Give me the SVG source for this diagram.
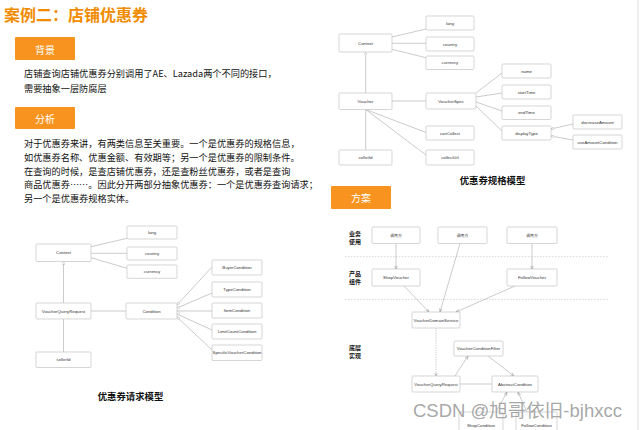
<svg xmlns="http://www.w3.org/2000/svg" width="640" height="430" viewBox="0 0 640 430">
<defs>
<style>
.box{fill:#fff;stroke:#c4c4c4;stroke-width:0.7}
.lbl{font-family:"Liberation Sans",Arial,sans-serif;font-size:4.3px;fill:#333;text-anchor:middle;dominant-baseline:central}
.cn{font-family:"Noto Sans CJK SC",sans-serif;font-size:3.8px;fill:#333;text-anchor:middle;dominant-baseline:central}
.conn{stroke:#a8a8a8;stroke-width:0.6;fill:none}
.btn{fill:#F7931E}
.btntxt{font-family:"Noto Sans CJK SC",sans-serif;font-size:10px;fill:#fff;text-anchor:middle;dominant-baseline:central}
.body{font-family:"Noto Sans CJK SC",sans-serif;font-size:9.2px;fill:#111}
.cap{font-family:"Noto Sans CJK SC",sans-serif;font-size:9.4px;fill:#111;font-weight:bold;text-anchor:middle}
.layer{font-family:"Noto Sans CJK SC",sans-serif;font-size:6px;fill:#111;font-weight:bold}
</style>
<marker id="tri" viewBox="0 0 10 10" refX="10" refY="5" markerWidth="3" markerHeight="3" markerUnits="userSpaceOnUse" orient="auto-start-reverse"><path d="M0,0 L10,5 L0,10 z" fill="#fff" stroke="#999" stroke-width="1.2"/></marker>
<marker id="arr" viewBox="0 0 10 10" refX="10" refY="5" markerWidth="3.5" markerHeight="3.5" markerUnits="userSpaceOnUse" orient="auto"><path d="M0,1 L10,5 L0,9" fill="none" stroke="#888" stroke-width="1.4"/></marker>
</defs>
<rect width="640" height="430" fill="#fff"/>
<line x1="638" y1="0" x2="638" y2="430" stroke="#ddd" stroke-width="1"/>

<text x="4" y="21" font-family="'Noto Sans CJK SC',sans-serif" font-size="16" font-weight="bold" fill="#F08C00">案例二：店铺优惠券</text>

<g id="btn-bg"><rect class="btn" x="15" y="37" width="60" height="23" rx="1"/><text class="btntxt" x="45" y="49">背景</text></g>
<text class="body" x="24" y="77">店铺查询店铺优惠券分别调用了AE、Lazada两个不同的接口，</text>
<text class="body" x="24" y="91.5">需要抽象一层防腐层</text>

<g id="btn-fx"><rect class="btn" x="15" y="107" width="60" height="22" rx="1"/><text class="btntxt" x="45" y="118">分析</text></g>
<text class="body" x="24" y="146.5">对于优惠券来讲，有两类信息至关重要。一个是优惠券的规格信息，</text>
<text class="body" x="24" y="160.5">如优惠券名称、优惠金额、有效期等；另一个是优惠券的限制条件。</text>
<text class="body" x="24" y="174.5">在查询的时候，是查店铺优惠券，还是查粉丝优惠券，或者是查询</text>
<text class="body" x="24" y="188">商品优惠券……。因此分开两部分抽象优惠券：一个是优惠券查询请求；</text>
<text class="body" x="24" y="201.5">另一个是优惠券规格实体。</text>

<g id="btn-fa"><rect class="btn" x="331" y="186" width="60" height="23" rx="1"/><text class="btntxt" x="361" y="197.5">方案</text></g>

<g id="connectors">
<!-- left diagram -->
<line class="conn" x1="91" y1="246.7" x2="127" y2="238.3"/>
<line class="conn" x1="91" y1="253.3" x2="127" y2="253.3"/>
<line class="conn" x1="91" y1="257.7" x2="127" y2="268.3"/>
<line class="conn" x1="63.5" y1="303" x2="63.5" y2="261.5" marker-end="url(#tri)"/>
<line class="conn" x1="63.5" y1="319" x2="63.5" y2="352"/>
<line class="conn" x1="91" y1="311" x2="126" y2="311"/>
<line class="conn" x1="177" y1="305" x2="212" y2="267" marker-start="url(#tri)"/>
<line class="conn" x1="177" y1="308" x2="212" y2="293" marker-start="url(#tri)"/>
<line class="conn" x1="177" y1="311" x2="212" y2="311" marker-start="url(#tri)"/>
<line class="conn" x1="177" y1="314" x2="212" y2="330" marker-start="url(#tri)"/>
<line class="conn" x1="177" y1="317" x2="212" y2="350" marker-start="url(#tri)"/>
<!-- top right -->
<line class="conn" x1="392" y1="37" x2="426" y2="29"/>
<line class="conn" x1="392" y1="43.3" x2="426" y2="43.3"/>
<line class="conn" x1="392" y1="49.3" x2="426" y2="57.7"/>
<line class="conn" x1="365.7" y1="93" x2="365.7" y2="52.3" marker-end="url(#tri)"/>
<line class="conn" x1="392" y1="101" x2="426" y2="101"/>
<line class="conn" x1="476" y1="93" x2="502" y2="73"/>
<line class="conn" x1="476" y1="97" x2="502" y2="93"/>
<line class="conn" x1="476" y1="102" x2="502" y2="111"/>
<line class="conn" x1="476" y1="106" x2="502" y2="131"/>
<line class="conn" x1="551" y1="129" x2="573" y2="124" marker-start="url(#tri)"/>
<line class="conn" x1="551" y1="136" x2="573" y2="140" marker-start="url(#tri)"/>
<line class="conn" x1="365.7" y1="109.5" x2="426" y2="132.5"/>
<line class="conn" x1="365.7" y1="109.5" x2="426" y2="155"/>
<line class="conn" x1="365.7" y1="109.5" x2="365.7" y2="150"/>
<!-- bottom right -->
<line x1="345" y1="256.7" x2="608" y2="256.7" stroke="#bbb" stroke-width="0.6" stroke-dasharray="1.5,1.5"/>
<line x1="345" y1="299.3" x2="608" y2="299.3" stroke="#bbb" stroke-width="0.6" stroke-dasharray="1.5,1.5"/>
<line class="conn" x1="396" y1="243.5" x2="396" y2="269" marker-end="url(#arr)"/>
<line class="conn" x1="532" y1="243.5" x2="532" y2="269" marker-end="url(#arr)"/>
<line class="conn" x1="460" y1="243.5" x2="440" y2="312" marker-end="url(#arr)"/>
<line class="conn" x1="404" y1="286" x2="429" y2="312" marker-end="url(#arr)"/>
<line class="conn" x1="515" y1="286" x2="456" y2="312" marker-end="url(#arr)"/>
<line class="conn" x1="436" y1="328" x2="436" y2="376" stroke-dasharray="1.2,1.2" marker-end="url(#arr)"/>
<line class="conn" x1="455" y1="376" x2="468" y2="356" marker-end="url(#arr)"/>
<line class="conn" x1="488" y1="356" x2="514" y2="376" marker-end="url(#arr)"/>
<line class="conn" x1="492" y1="384" x2="460" y2="384"/>
<line class="conn" x1="496" y1="412" x2="507" y2="392" marker-end="url(#arr)"/>
<line class="conn" x1="527" y1="412" x2="518" y2="392" marker-end="url(#arr)"/>
</g>

<!-- left diagram nodes -->
<g id="l-context"><rect class="box" x="36" y="244" width="55" height="17.5" rx="1"/><text class="lbl" x="63.5" y="252.8">Context</text></g>
<g id="l-lang"><rect class="box" x="127" y="226" width="50" height="13" rx="1"/><text class="lbl" x="152" y="232.5">lang</text></g>
<g id="l-country"><rect class="box" x="127" y="247" width="50" height="13" rx="1"/><text class="lbl" x="152" y="253.5">country</text></g>
<g id="l-currency"><rect class="box" x="127" y="265" width="50" height="13.3" rx="1"/><text class="lbl" x="152" y="271.6">currency</text></g>
<g id="l-vqr"><rect class="box" x="36" y="303" width="55" height="16" rx="1"/><text class="lbl" x="63.5" y="311">VoucherQueryRequest</text></g>
<g id="l-seller"><rect class="box" x="36" y="352" width="55" height="15.5" rx="1"/><text class="lbl" x="63.5" y="359.8">sellerId</text></g>
<g id="l-condition"><rect class="box" x="126" y="303" width="51" height="16" rx="1"/><text class="lbl" x="151.5" y="311">Condition</text></g>
<g id="l-buyer"><rect class="box" x="212" y="260" width="50" height="15" rx="1"/><text class="lbl" x="237" y="267.5">BuyerCondition</text></g>
<g id="l-type"><rect class="box" x="212" y="282" width="50" height="15" rx="1"/><text class="lbl" x="237" y="289.5">TypeCondition</text></g>
<g id="l-item"><rect class="box" x="212" y="303" width="50" height="15" rx="1"/><text class="lbl" x="237" y="310.5">ItemCondition</text></g>
<g id="l-limit"><rect class="box" x="212" y="324" width="50" height="15" rx="1"/><text class="lbl" x="237" y="331.5">LimitCountCondition</text></g>
<g id="l-specific"><rect class="box" x="212" y="345" width="50" height="15.5" rx="1"/><text class="lbl" x="237" y="352.8">SpecificVoucherCondition</text></g>
<text class="cap" x="130.5" y="400">优惠券请求模型</text>

<!-- top right nodes -->
<g id="r-context"><rect class="box" x="339" y="34" width="53" height="18" rx="1"/><text class="lbl" x="365.5" y="43">Context</text></g>
<g id="r-lang"><rect class="box" x="426" y="16" width="48" height="14" rx="1"/><text class="lbl" x="450" y="23">lang</text></g>
<g id="r-country"><rect class="box" x="426" y="37" width="48" height="14" rx="1"/><text class="lbl" x="450" y="44">country</text></g>
<g id="r-currency"><rect class="box" x="426" y="56" width="48" height="13.5" rx="1"/><text class="lbl" x="450" y="62.7">currency</text></g>
<g id="r-voucher"><rect class="box" x="339" y="93" width="53" height="16.5" rx="1"/><text class="lbl" x="365.5" y="101.2">Voucher</text></g>
<g id="r-vspec"><rect class="box" x="426" y="93" width="50" height="16" rx="1"/><text class="lbl" x="451" y="101">VoucherSpec</text></g>
<g id="r-name"><rect class="box" x="502" y="64" width="49" height="14" rx="1"/><text class="lbl" x="526.5" y="71">name</text></g>
<g id="r-start"><rect class="box" x="502" y="85" width="49" height="14" rx="1"/><text class="lbl" x="526.5" y="92">startTime</text></g>
<g id="r-end"><rect class="box" x="502" y="106" width="49" height="13.5" rx="1"/><text class="lbl" x="526.5" y="112.7">endTime</text></g>
<g id="r-display"><rect class="box" x="502" y="126" width="49" height="14" rx="1"/><text class="lbl" x="526.5" y="133">displayType</text></g>
<g id="r-decrease"><rect class="box" x="573" y="115" width="49" height="14" rx="1"/><text class="lbl" x="597.5" y="122">decreaseAmount</text></g>
<g id="r-useamount"><rect class="box" x="573" y="135" width="49" height="14" rx="1"/><text class="lbl" x="597.5" y="142">useAmountCondition</text></g>
<g id="r-cancollect"><rect class="box" x="426" y="126" width="48" height="14" rx="1"/><text class="lbl" x="450" y="133">canCollect</text></g>
<g id="r-collecturl"><rect class="box" x="426" y="150" width="48" height="15" rx="1"/><text class="lbl" x="450" y="157.5">collectUrl</text></g>
<g id="r-seller"><rect class="box" x="339" y="150" width="53" height="15" rx="1"/><text class="lbl" x="365.5" y="157.5">sellerId</text></g>
<text class="cap" x="492.5" y="184">优惠券规格模型</text>

<!-- bottom right -->
<text class="layer" x="349" y="235.5">业务</text>
<text class="layer" x="349" y="243.8">使用</text>
<text class="layer" x="349" y="275.5">产品</text>
<text class="layer" x="349" y="283.8">组件</text>
<text class="layer" x="349" y="349.8">底层</text>
<text class="layer" x="349" y="357.5">实现</text>
<g id="b-caller1"><rect class="box" x="372" y="227" width="48" height="16.5" rx="1"/><text class="cn" x="396" y="235.2">调用方</text></g>
<g id="b-caller2"><rect class="box" x="438" y="227" width="49" height="16.5" rx="1"/><text class="cn" x="462.5" y="235.2">调用方</text></g>
<g id="b-caller3"><rect class="box" x="507" y="227" width="50" height="16.5" rx="1"/><text class="cn" x="532" y="235.2">调用方</text></g>
<g id="b-shop"><rect class="box" x="372" y="269" width="48" height="17" rx="1"/><text class="lbl" x="396" y="277.5">ShopVoucher</text></g>
<g id="b-follow"><rect class="box" x="507" y="269" width="50" height="17" rx="1"/><text class="lbl" x="532" y="277.5">FollowVoucher</text></g>
<g id="b-vds"><rect class="box" x="412" y="312" width="48" height="16" rx="1"/><text class="lbl" x="436" y="320">VoucherDomainService</text></g>
<g id="b-vcf"><rect class="box" x="454" y="341" width="49" height="15" rx="1"/><text class="lbl" x="478.5" y="348.5">VoucherConditionFilter</text></g>
<g id="b-vqr"><rect class="box" x="412" y="376" width="48" height="16" rx="1"/><text class="lbl" x="436" y="384">VoucherQueryRequest</text></g>
<g id="b-abs"><rect class="box" x="492" y="376" width="46" height="16" rx="1"/><text class="lbl" x="515" y="384">AbstractCondition</text></g>
<g id="b-cond1"><rect class="box" x="459" y="412" width="44" height="24" rx="1"/><text class="lbl" x="481" y="425">ShopCondition</text></g>
<g id="b-cond2"><rect class="box" x="516" y="412" width="41" height="24" rx="1"/><text class="lbl" x="536.5" y="425">FollowCondition</text></g>

<text x="413" y="416.5" font-family="'Liberation Sans','Noto Sans CJK SC',sans-serif" font-size="18.5" fill="#9c9c9c" fill-opacity="0.9">CSDN @旭哥依旧-bjhxcc</text>
</svg>
